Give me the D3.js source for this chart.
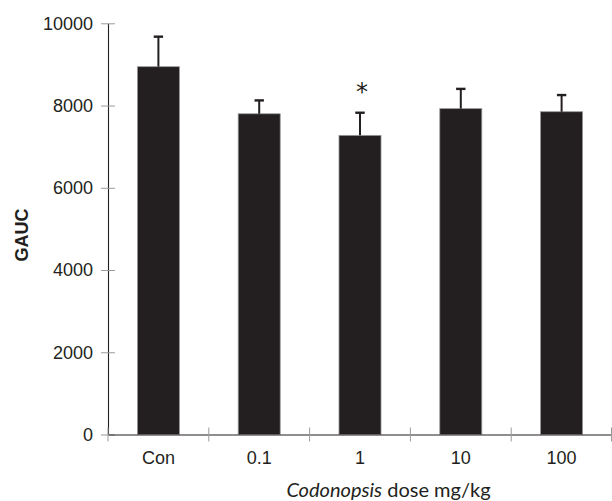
<!DOCTYPE html>
<html>
<head>
<meta charset="utf-8">
<script src="https://cdn.jsdelivr.net/npm/d3@7"></script>
<style>
  html, body { margin: 0; padding: 0; background: #fff; }
  svg { display: block; }
  .lbl { font-family: "Liberation Sans", Arial, Helvetica, sans-serif; }
  .star { font-family: "DejaVu Sans", sans-serif; }
</style>
</head>
<body>
<div id="chart"></div>
<script>
// GAUC by Codonopsis dose (mean + SEM)
const categories = ["Con", "0.1", "1", "10", "100"];
const means = [8945, 7800, 7275, 7925, 7850];
const errors = [730, 325, 550, 480, 405];
const significant = [false, false, true, false, false];
const yTicks = [0, 2000, 4000, 6000, 8000, 10000];

const W = 612, H = 501;
const margin = { left: 108, right: 0, top: 23.3, bottom: 66 };
const ink = "#231f20";

const svg = d3.select("#chart").append("svg")
  .attr("width", W).attr("height", H);

const x = d3.scaleBand()
  .domain(categories)
  .range([margin.left, W - margin.right])
  .paddingInner(0.583)
  .paddingOuter(0.2915);

const y = d3.scaleLinear()
  .domain([0, 10000])
  .range([H - margin.bottom - 0.5, margin.top]);

const y0 = y(0);

// bars
svg.append("g").selectAll("rect")
  .data(categories)
  .join("rect")
  .attr("x", d => x(d))
  .attr("width", x.bandwidth())
  .attr("y", (d, i) => y(means[i]))
  .attr("height", (d, i) => y0 - y(means[i]))
  .attr("fill", ink)
  .attr("stroke", "#9a9a9a")
  .attr("stroke-width", 0.8);

// upper error bars
const eb = svg.append("g").attr("stroke", ink);
categories.forEach((c, i) => {
  const cx = x(c) + x.bandwidth() / 2;
  eb.append("line")
    .attr("x1", cx).attr("x2", cx)
    .attr("y1", y(means[i])).attr("y2", y(means[i] + errors[i]))
    .attr("stroke-width", 2);
  eb.append("line")
    .attr("x1", cx - 4.7).attr("x2", cx + 4.7)
    .attr("y1", y(means[i] + errors[i])).attr("y2", y(means[i] + errors[i]))
    .attr("stroke-width", 2.4);
});

// significance marks
svg.append("g").selectAll("text")
  .data(categories.filter((c, i) => significant[i]))
  .join("text")
  .attr("class", "star")
  .attr("x", d => x(d) + x.bandwidth() / 2 + 2)
  .attr("y", d => y(means[categories.indexOf(d)] + errors[categories.indexOf(d)]) - 13)
  .attr("text-anchor", "middle")
  .style("font-size", "24px")
  .style("fill", ink)
  .text("*");

// y axis
const yAxis = d3.axisLeft(y).tickValues(yTicks).tickFormat(d3.format("d"))
  .tickSize(0).tickPadding(15);
const gy = svg.append("g")
  .attr("transform", `translate(${margin.left},0)`)
  .call(yAxis);
gy.select(".domain").attr("stroke", ink).attr("stroke-width", 1.1);
gy.selectAll(".tick text")
  .attr("class", "lbl")
  .style("font-size", "18px")
  .style("fill", ink);
gy.selectAll(".tick").append("line")
  .attr("x1", -7).attr("x2", 7)
  .attr("stroke", "#9a9a9a").attr("stroke-width", 1);

// x axis
const xAxis = d3.axisBottom(x).tickSize(0).tickPadding(17);
const gx = svg.append("g")
  .attr("transform", `translate(0,${y0})`)
  .call(xAxis);
gx.select(".domain").attr("stroke", ink).attr("stroke-width", 1.1);
gx.selectAll(".tick text")
  .attr("class", "lbl")
  .style("font-size", "18px")
  .style("fill", ink);

// category separators below the x axis
const bounds = categories.map(c => x(c) - x.step() * x.paddingInner() / 2)
  .concat([W - margin.right - 0.5]);
bounds[0] = margin.left;
gx.append("g").selectAll("line")
  .data(bounds)
  .join("line")
  .attr("x1", d => d).attr("x2", d => d)
  .attr("y1", -7).attr("y2", 7)
  .attr("stroke", "#9a9a9a").attr("stroke-width", 1);

// axis titles
svg.append("text")
  .attr("class", "lbl")
  .attr("transform", "translate(27.5,235) rotate(-90)")
  .attr("text-anchor", "middle")
  .style("font-weight", "bold")
  .style("font-size", "18px")
  .style("fill", ink)
  .text("GAUC");

const title = svg.append("text")
  .attr("x", 388.5)
  .attr("y", 496.5)
  .attr("text-anchor", "middle")
  .style("font-family", "Lato, 'Open Sans', sans-serif")
  .style("font-size", "20px")
  .style("fill", ink);
title.append("tspan").style("font-style", "italic").text("Codonopsis");
title.append("tspan").text(" dose mg/kg");
</script>
</body>
</html>
